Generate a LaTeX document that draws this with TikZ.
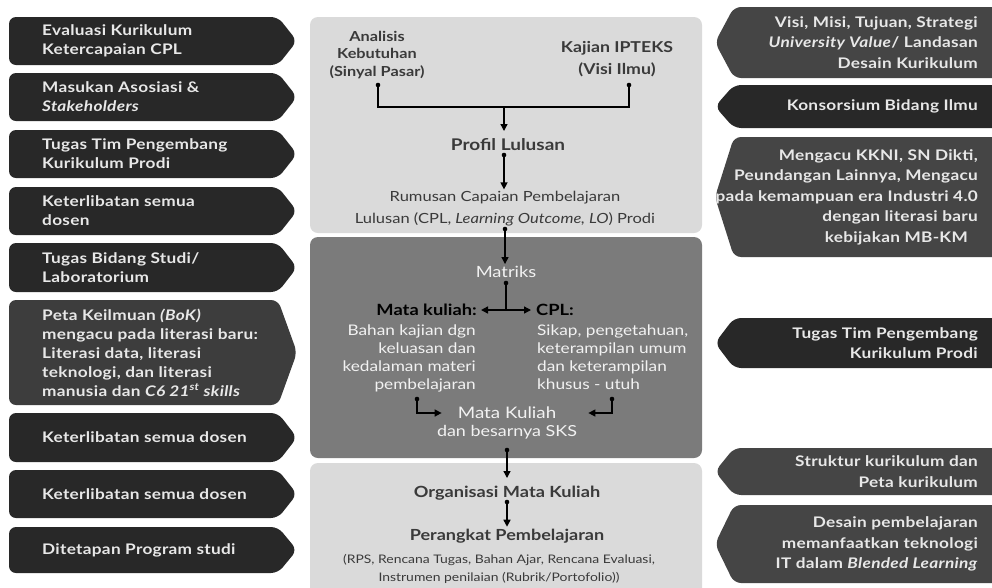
\documentclass[tikz,border=0pt]{standalone}
\usepackage{fontspec}
\setmainfont{Lato}[FakeStretch=1.18]
\newfontfamily\signfont{Lato}[FakeStretch=1.18, LetterSpace=2]
\usetikzlibrary{arrows.meta}

\definecolor{boxblack}{HTML}{282828}
\definecolor{boxgray}{HTML}{454545}
\definecolor{boxmid}{HTML}{3D3D3D}
\definecolor{panellight}{HTML}{DADADA}
\definecolor{paneldark}{HTML}{7B7B7B}
\definecolor{boxtext}{HTML}{E8E8E8}
\definecolor{inktext}{HTML}{3A3A3A}
\definecolor{whitetext}{HTML}{F2F2F2}

\newcommand\fsz[2]{\fontsize{#1}{#2}\selectfont}

\tikzset{
  lbtext/.style={anchor=west, align=left, inner sep=0pt, text=boxtext, font=\signfont\bfseries\fsz{14.6}{19}},
  rbtext/.style={anchor=east, align=right, inner sep=0pt, text=boxtext, font=\signfont\bfseries\fsz{14.6}{20.5}},
  panel/.style={rounded corners=8pt},
  conn/.style={line width=1.4pt, draw=black},
  tipend/.style={conn, -{Triangle[length=7pt,width=7pt]}},
  tipboth/.style={conn, {Triangle[length=7pt,width=7pt]}-{Triangle[length=7pt,width=7pt]}},
  dot/.style={fill=black},
  darkhead/.style={text=inktext, font=\bfseries\fsz{13.8}{17.5}, align=center, inner sep=2pt},
  lighthead/.style={text=whitetext, font=\fsz{15.5}{18}, align=center, inner sep=2pt},
}

% arrow-shaped label box pointing right, text flush left
\newcommand\leftsign[5]{%
  \fill[#4, rounded corners=7pt] (9,#2) -- (278,#2) -- (297,{(#2+#3)/2}) -- (278,#3) -- (9,#3) -- cycle;
  \node[lbtext] (#1) at (42,{(#2+#3)/2}) {#5};}
% arrow-shaped label box pointing left, text flush right
\newcommand\rightsign[5]{%
  \fill[#4, rounded corners=7pt] (1010,#2) -- (734,#2) -- (715,{(#2+#3)/2}) -- (734,#3) -- (1010,#3) -- cycle;
  \node[rbtext] (#1) at (978,{(#2+#3)/2}) {#5};}

\begin{document}
\begin{tikzpicture}[x=1pt,y=-1pt]
\useasboundingbox (0,0) rectangle (992,587);
\clip (0,0) rectangle (992,587);
\fill[white] (0,0) rectangle (992,587);

% ---- left column ----
\leftsign{l1}{17}{65}{boxblack}{Evaluasi Kurikulum\\Ketercapaian CPL}
\leftsign{l2}{73}{121}{boxblack}{Masukan Asosiasi \&\\\textit{Stakeholders}}
\leftsign{l3}{130}{178}{boxblack}{Tugas Tim Pengembang\\Kurikulum Prodi}
\leftsign{l4}{187}{235}{boxblack}{Keterlibatan semua\\dosen}
\leftsign{l5}{243}{292}{boxblack}{Tugas Bidang Studi/\\Laboratorium}
\leftsign{l6}{300}{405}{boxmid}{Peta Keilmuan \textit{(BoK)}\\mengacu pada literasi baru:\\Literasi data, literasi\\teknologi, dan literasi\\manusia dan \textit{C6 21\textsuperscript{st} skills}}
\leftsign{l7}{413}{462}{boxblack}{Keterlibatan semua dosen}
\leftsign{l8}{470}{518}{boxblack}{Keterlibatan semua dosen}
\leftsign{l9}{527}{573}{boxblack}{Ditetapan Program studi}

% ---- right column ----
\rightsign{r1}{7}{78}{boxgray}{Visi, Misi, Tujuan, Strategi\\\textit{University Value}/ Landasan\\Desain Kurikulum}
\rightsign{r2}{85}{128}{boxblack}{Konsorsium Bidang Ilmu}
\rightsign{r3}{137}{257}{boxgray}{Mengacu KKNI, SN Dikti,\\Peundangan Lainnya, Mengacu\\pada kemampuan era Industri 4.0\\dengan literasi baru\\kebijakan MB-KM\hspace*{10pt}}
\rightsign{r4}{318}{368}{boxblack}{Tugas Tim Pengembang\\Kurikulum Prodi}
\rightsign{r5}{448}{495}{boxgray}{Struktur kurikulum dan\\Peta kurikulum}
\rightsign{r6}{505}{583}{boxgray}{Desain pembelajaran\\memanfaatkan teknologi\\IT dalam \textit{Blended Learning}}

% ---- centre panels ----
\fill[panellight, panel] (310,17) rectangle (702,233);
\fill[paneldark, panel] (310,237) rectangle (702,458);
\fill[panellight, panel] (310,463) rectangle (702,600);

% top panel
\node[darkhead] (an) at (377,55) {Analisis\\Kebutuhan\\(Sinyal Pasar)};
\node[darkhead, font=\bfseries\fsz{15}{22}] (kj) at (617,59) {Kajian IPTEKS\\(Visi Ilmu)};
\node[darkhead, font=\bfseries\fsz{16.1}{20}] (prof) at (508,145) {Profil Lulusan};
\node[darkhead, font=\fsz{14}{22}] (rum) at (505,209) {Rumusan Capaian Pembelajaran\\Lulusan (CPL, \textit{Learning Outcome, LO}) Prodi};

\coordinate (anD) at (378,85);
\coordinate (kjD) at (629,85);
\coordinate (join) at (504,107);
\draw[conn] (anD) -- (anD |- join) -- (kjD |- join) -- (kjD);
\fill[dot] (anD) circle (2.3pt);
\fill[dot] (kjD) circle (2.3pt);
\draw[tipend] (join) -- (504,131);

\coordinate (profD) at (504,155);
\fill[dot] (profD) circle (2.3pt);
\draw[tipend] (profD) -- (rum.north -| profD);

% middle panel
\node[lighthead] (mat) at (506,272) {Matriks};
\coordinate (rumD) at (505,229);
\fill[dot] (rumD) circle (2.3pt);
\draw[tipend] (rumD) -- (mat.north -| rumD);

\node[anchor=east, inner sep=0pt, font=\bfseries\fsz{15.5}{18}, text=black] (mkl) at (477,310) {Mata kuliah:};
\node[anchor=west, inner sep=0pt, font=\bfseries\fsz{15.5}{18}, text=black] (cpl) at (536,310) {CPL:};
\node[anchor=north east, inner sep=0pt, align=right, text=whitetext, font=\fsz{14.6}{18}] (bk) at (476,325) {Bahan kajian dgn\\keluasan dan\\kedalaman materi\\pembelajaran};
\node[anchor=north west, inner sep=0pt, align=left, text=whitetext, font=\fsz{14.6}{18}] (sk) at (537,325) {Sikap, pengetahuan,\\keterampilan umum\\dan keterampilan\\khusus - utuh};

\coordinate (matD) at (506,283);
\fill[dot] (matD) circle (2.3pt);
\draw[conn] (matD) -- (506,310);
\draw[tipboth] ([xshift=4pt]mkl.east) -- ([xshift=-5pt]cpl.west);

\node[lighthead, font=\fsz{15.9}{19}] (mk) at (507,413) {Mata Kuliah};
\node[lighthead, font=\fsz{15.2}{18}] (sks) at (507,432) {dan besarnya SKS};

\coordinate (bkD) at (417,399);
\coordinate (skD) at (612,399);
\fill[dot] (bkD) circle (2.3pt);
\fill[dot] (skD) circle (2.3pt);
\draw[tipend] (bkD) |- ([xshift=-14pt]mk.west);
\draw[tipend] (skD) |- ([xshift=30pt]mk.east);

% bottom panel
\node[darkhead, font=\bfseries\fsz{15.4}{19}] (org) at (507,493) {Organisasi Mata Kuliah};
\node[darkhead, font=\bfseries\fsz{15.3}{19}] (per) at (507,536) {Perangkat Pembelajaran};
\node[darkhead, font=\fsz{11.8}{18}, inner sep=0pt] (rps) at (499,569) {(RPS, Rencana Tugas, Bahan Ajar, Rencana Evaluasi,\\Instrumen penilaian (Rubrik/Portofolio))};

\coordinate (sksD) at (507,450);
\fill[dot] (sksD) circle (2.3pt);
\draw[tipend] (sksD) -- (507,478);
\coordinate (orgD) at (507,502);
\fill[dot] (orgD) circle (2.3pt);
\draw[tipend] (orgD) -- (per.north -| orgD);
\end{tikzpicture}
\end{document}
